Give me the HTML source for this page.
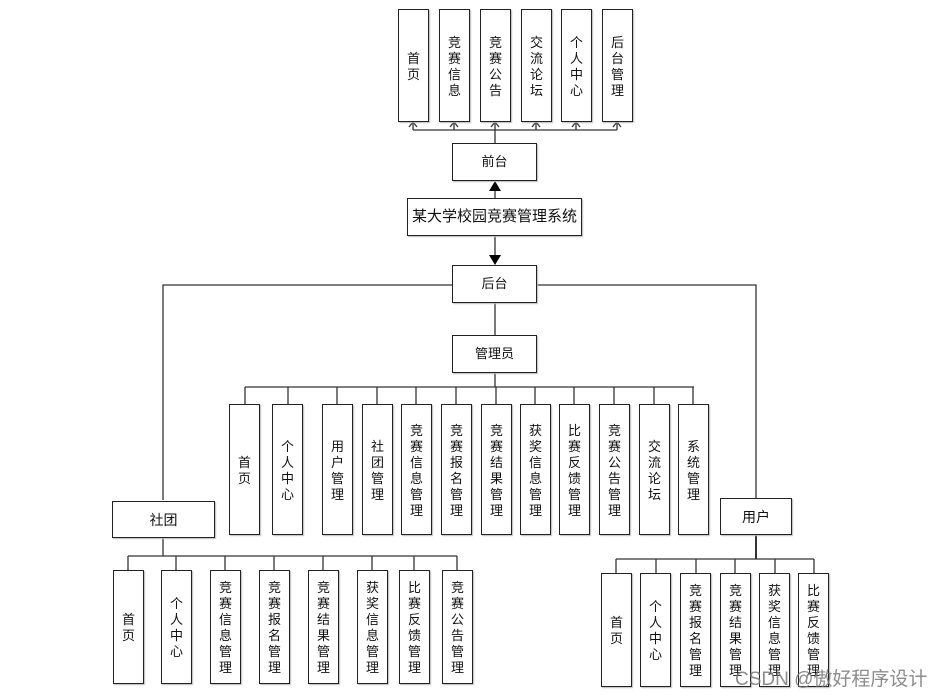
<!DOCTYPE html>
<html><head><meta charset="utf-8"><style>
body{margin:0;width:941px;height:698px;background:#fff;position:relative;overflow:hidden;font-family:"Liberation Sans","Noto Sans CJK SC",sans-serif;}
.b{position:absolute;box-sizing:border-box;border:1.3px solid #222;background:#fff;display:flex;align-items:center;justify-content:center;text-align:center;font-size:13px;line-height:16px;color:#111;box-shadow:1px 1px 1px #bbb;}
.v{width:31px;padding-top:2px}
svg{position:absolute;left:0;top:0}
.wm{position:absolute;left:735px;top:664px;font-size:19px;color:rgba(120,120,120,.85);letter-spacing:0px;white-space:nowrap}
</style></head><body>
<svg width="941" height="698">
<g stroke="#333" stroke-width="1.3" fill="none">
<!-- top bus -->
<line x1="413" y1="130" x2="617" y2="130"/>
<line x1="413" y1="122" x2="413" y2="130"/><line x1="454" y1="122" x2="454" y2="130"/><line x1="495" y1="122" x2="495" y2="143"/><line x1="536" y1="122" x2="536" y2="130"/><line x1="576" y1="122" x2="576" y2="130"/><line x1="617" y1="122" x2="617" y2="130"/>
<path d="M409 127 L413 122 L417 127 M450 127 L454 122 L458 127 M491 127 L495 122 L499 127 M532 127 L536 122 L540 127 M572 127 L576 122 L580 127 M613 127 L617 122 L621 127"/>
<line x1="495" y1="190" x2="495" y2="198"/>
<line x1="495" y1="236" x2="495" y2="256"/>
<!-- houtai lines -->
<polyline points="163,500 163,285 452,285"/>
<polyline points="537,285 756,285 756,498"/>
<line x1="495" y1="303" x2="495" y2="335"/>
<line x1="495" y1="373" x2="495" y2="387"/>
<line x1="245" y1="387" x2="694" y2="387"/>
<line x1="245" y1="387" x2="245" y2="404"/><line x1="288" y1="387" x2="288" y2="404"/><line x1="337" y1="387" x2="337" y2="404"/><line x1="377" y1="387" x2="377" y2="404"/><line x1="416" y1="387" x2="416" y2="404"/><line x1="456" y1="387" x2="456" y2="404"/><line x1="496" y1="387" x2="496" y2="404"/><line x1="535" y1="387" x2="535" y2="404"/><line x1="574" y1="387" x2="574" y2="404"/><line x1="614" y1="387" x2="614" y2="404"/><line x1="654" y1="387" x2="654" y2="404"/><line x1="693" y1="387" x2="693" y2="404"/>
<!-- shetuan -->
<line x1="163" y1="538" x2="163" y2="556"/>
<line x1="128" y1="556" x2="457" y2="556"/>
<line x1="128" y1="556" x2="128" y2="570"/><line x1="176" y1="556" x2="176" y2="570"/><line x1="225" y1="556" x2="225" y2="570"/><line x1="274" y1="556" x2="274" y2="570"/><line x1="323" y1="556" x2="323" y2="570"/><line x1="372" y1="556" x2="372" y2="570"/><line x1="414" y1="556" x2="414" y2="570"/><line x1="457" y1="556" x2="457" y2="570"/>
<!-- yonghu -->
<line x1="756" y1="535" x2="756" y2="559" stroke-width="2"/>
<line x1="616" y1="559" x2="814" y2="559"/>
<line x1="616" y1="559" x2="616" y2="573"/><line x1="656" y1="559" x2="656" y2="573"/><line x1="696" y1="559" x2="696" y2="573"/><line x1="735" y1="559" x2="735" y2="573"/><line x1="775" y1="559" x2="775" y2="573"/><line x1="814" y1="559" x2="814" y2="573"/>
</g>
<path d="M489 191 L495 181 L501 191 Z" fill="#000"/>
<path d="M489 255 L495 265 L501 255 Z" fill="#000"/>
</svg>

<div class="b v" style="left:398px;top:9px;height:113px">首<br>页</div>
<div class="b v" style="left:439px;top:9px;height:113px">竞<br>赛<br>信<br>息</div>
<div class="b v" style="left:480px;top:9px;height:113px">竞<br>赛<br>公<br>告</div>
<div class="b v" style="left:521px;top:9px;height:113px">交<br>流<br>论<br>坛</div>
<div class="b v" style="left:561px;top:9px;height:113px">个<br>人<br>中<br>心</div>
<div class="b v" style="left:602px;top:9px;height:113px">后<br>台<br>管<br>理</div>

<div class="b" style="left:452px;top:143px;width:85px;height:38px">前台</div>
<div class="b" style="left:407px;top:198px;width:175px;height:38px;font-size:15px">某大学校园竞赛管理系统</div>
<div class="b" style="left:452px;top:265px;width:85px;height:38px">后台</div>
<div class="b" style="left:452px;top:335px;width:85px;height:38px">管理员</div>

<div class="b v" style="left:229px;top:404px;height:131px">首<br>页</div>
<div class="b v" style="left:272px;top:404px;height:131px">个<br>人<br>中<br>心</div>
<div class="b v" style="left:322px;top:404px;height:131px">用<br>户<br>管<br>理</div>
<div class="b v" style="left:362px;top:404px;height:131px">社<br>团<br>管<br>理</div>
<div class="b v" style="left:401px;top:404px;height:131px">竞<br>赛<br>信<br>息<br>管<br>理</div>
<div class="b v" style="left:441px;top:404px;height:131px">竞<br>赛<br>报<br>名<br>管<br>理</div>
<div class="b v" style="left:481px;top:404px;height:131px">竞<br>赛<br>结<br>果<br>管<br>理</div>
<div class="b v" style="left:520px;top:404px;height:131px">获<br>奖<br>信<br>息<br>管<br>理</div>
<div class="b v" style="left:559px;top:404px;height:131px">比<br>赛<br>反<br>馈<br>管<br>理</div>
<div class="b v" style="left:599px;top:404px;height:131px">竞<br>赛<br>公<br>告<br>管<br>理</div>
<div class="b v" style="left:639px;top:404px;height:131px">交<br>流<br>论<br>坛</div>
<div class="b v" style="left:678px;top:404px;height:131px">系<br>统<br>管<br>理</div>

<div class="b" style="left:112px;top:501px;width:103px;height:37px;font-size:14px">社团</div>
<div class="b" style="left:720px;top:498px;width:72px;height:37px;font-size:14px">用户</div>

<div class="b v" style="left:113px;top:570px;height:114px">首<br>页</div>
<div class="b v" style="left:161px;top:570px;height:114px">个<br>人<br>中<br>心</div>
<div class="b v" style="left:210px;top:570px;height:114px">竞<br>赛<br>信<br>息<br>管<br>理</div>
<div class="b v" style="left:259px;top:570px;height:114px">竞<br>赛<br>报<br>名<br>管<br>理</div>
<div class="b v" style="left:308px;top:570px;height:114px">竞<br>赛<br>结<br>果<br>管<br>理</div>
<div class="b v" style="left:357px;top:570px;height:114px">获<br>奖<br>信<br>息<br>管<br>理</div>
<div class="b v" style="left:399px;top:570px;height:114px">比<br>赛<br>反<br>馈<br>管<br>理</div>
<div class="b v" style="left:442px;top:570px;height:114px">竞<br>赛<br>公<br>告<br>管<br>理</div>

<div class="b v" style="left:601px;top:573px;height:114px">首<br>页</div>
<div class="b v" style="left:640px;top:573px;height:114px">个<br>人<br>中<br>心</div>
<div class="b v" style="left:680px;top:573px;height:114px">竞<br>赛<br>报<br>名<br>管<br>理</div>
<div class="b v" style="left:720px;top:573px;height:114px">竞<br>赛<br>结<br>果<br>管<br>理</div>
<div class="b v" style="left:759px;top:573px;height:114px">获<br>奖<br>信<br>息<br>管<br>理</div>
<div class="b v" style="left:798px;top:573px;height:114px">比<br>赛<br>反<br>馈<br>管<br>理</div>

<div class="wm">CSDN @傲好程序设计</div>
</body></html>
